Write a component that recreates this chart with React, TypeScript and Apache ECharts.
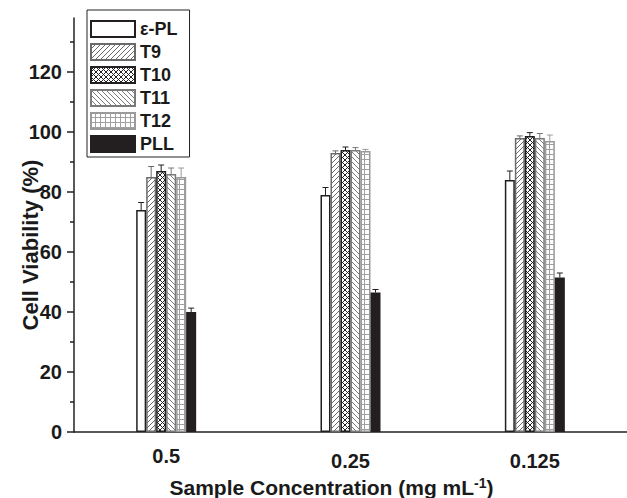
import React, { useEffect, useRef } from "react";
import * as echarts from "echarts";

const categories = ["0.5", "0.25", "0.125"];
const seriesNames = ["ε-PL", "T9", "T10", "T11", "T12", "PLL"];
const eplValues = [74, 79, 84];
const eplErr = [2.5, 2.5, 3];
const t9Values = [85, 93, 98];
const t9Err = [3.5, 0.7, 0.7];
const t10Values = [87, 94, 98.7];
const t10Err = [2, 1, 1.1];
const t11Values = [86, 94, 98];
const t11Err = [2, 0.8, 1.5];
const t12Values = [85, 93.7, 97];
const t12Err = [3, 0.5, 2];
const pllValues = [40, 46.5, 51.5];
const pllErr = [1.3, 1, 1.5];
const yMajorTicks = [0, 20, 40, 60, 80, 100, 120];
const yMinorTicks = [10, 30, 50, 70, 90, 110, 130];

const FONT = "'Liberation Sans', Arial, Helvetica, sans-serif";

function makePattern(kind: string, color: string) {
  const s = 5;
  const c = document.createElement("canvas");
  c.width = s;
  c.height = s;
  const ctx = c.getContext("2d")!;
  ctx.fillStyle = "#ffffff";
  ctx.fillRect(0, 0, s, s);
  ctx.strokeStyle = color;
  ctx.lineWidth = 1;
  const fwd = () => {
    ctx.beginPath();
    ctx.moveTo(-1, s + 1);
    ctx.lineTo(s + 1, -1);
    ctx.moveTo(-1, 1);
    ctx.lineTo(1, -1);
    ctx.moveTo(s - 1, s + 1);
    ctx.lineTo(s + 1, s - 1);
    ctx.stroke();
  };
  const back = () => {
    ctx.beginPath();
    ctx.moveTo(-1, -1);
    ctx.lineTo(s + 1, s + 1);
    ctx.moveTo(s - 1, -1);
    ctx.lineTo(s + 1, 1);
    ctx.moveTo(-1, s - 1);
    ctx.lineTo(1, s + 1);
    ctx.stroke();
  };
  if (kind === "fwd") fwd();
  if (kind === "back") back();
  if (kind === "cross") {
    fwd();
    back();
  }
  if (kind === "grid") {
    ctx.beginPath();
    ctx.moveTo(0, s - 0.5);
    ctx.lineTo(s, s - 0.5);
    ctx.moveTo(s - 0.5, 0);
    ctx.lineTo(s - 0.5, s);
    ctx.stroke();
  }
  return { image: c, repeat: "repeat" } as any;
}

export default function App() {
  const ref = useRef<HTMLDivElement>(null);
  useEffect(() => {
    if (!ref.current) return;
    const chart = echarts.init(ref.current, undefined, { renderer: "svg" });
    const values = [eplValues, t9Values, t10Values, t11Values, t12Values, pllValues];
    const errs = [eplErr, t9Err, t10Err, t11Err, t12Err, pllErr];
    const fills = [
      "#ffffff",
      makePattern("fwd", "#6a6a6a"),
      makePattern("cross", "#222222"),
      makePattern("back", "#7a7a7a"),
      makePattern("grid", "#a0a0a0"),
      "#231f20",
    ];
    const borders = ["#231f20", "#6a6a6a", "#231f20", "#7a7a7a", "#9a9a9a", "#231f20"];
    const barW = 10;

    const barSeries = seriesNames.map((name, i) => ({
      name,
      type: "bar",
      barWidth: barW,
      barGap: "0%",
      data: values[i],
      itemStyle: { color: fills[i], borderColor: borders[i], borderWidth: 1.5 },
    }));
    const errSeries = seriesNames.map((name, i) => ({
      name: "err-" + name,
      type: "custom",
      z: 5,
      data: values[i].map((v, k) => [k, v, errs[i][k]]),
      renderItem: (params: any, api: any) => {
        const x = api.value(0);
        const v = api.value(1);
        const e = api.value(2);
        const p0 = api.coord([x, v]);
        const p1 = api.coord([x, v + e]);
        const cx = p0[0] + (i - 2.5) * barW;
        const st = { stroke: borders[i], lineWidth: 1 };
        return {
          type: "group",
          children: [
            { type: "line", shape: { x1: cx, y1: p0[1], x2: cx, y2: p1[1] }, style: st },
            { type: "line", shape: { x1: cx - 3, y1: p1[1], x2: cx + 3, y2: p1[1] }, style: st },
          ],
        };
      },
    }));

    chart.setOption({
      animation: false,
      backgroundColor: "#ffffff",
      textStyle: { fontFamily: FONT },
      grid: { left: 74, right: 0, top: 18, bottom: 66, containLabel: false, outerBoundsMode: "none" },
      legend: {
        data: seriesNames,
        orient: "vertical",
        left: 87,
        top: 10,
        itemWidth: 44,
        itemHeight: 16,
        itemGap: 5,
        padding: [10, 12, 4, 3],
        borderColor: "#222",
        borderWidth: 1,
        backgroundColor: "#fff",
        icon: "rect",
        textStyle: { fontFamily: FONT, fontWeight: "bold", fontSize: 18, color: "#1a1a1a" },
      },
      xAxis: {
        type: "category",
        data: categories.map((c, k) => ({
          value: c,
          textStyle: { padding: [k === 0 ? 0 : 5, 0, 0, 0] },
        })),
        axisLine: { lineStyle: { color: "#222", width: 1.5 } },
        axisTick: { alignWithLabel: true, length: 6, lineStyle: { color: "#222", width: 1.5 } },
        axisLabel: { fontFamily: FONT, fontWeight: "bold", fontSize: 20, color: "#1a1a1a", margin: 14 },
        name: "{a|Sample Concentration (mg mL}{s|-1}{a|)}",
        nameLocation: "middle",
        nameGap: 44,
        nameMoveOverlap: false,
        nameTextStyle: {
          padding: [0, 38, 0, 0],
          rich: {
            a: { fontFamily: FONT, fontWeight: "bold", fontSize: 21, lineHeight: 22, color: "#1a1a1a" },
            s: { fontFamily: FONT, fontWeight: "bold", fontSize: 14, lineHeight: 22, color: "#1a1a1a", verticalAlign: "top" },
          },
        },
      },
      yAxis: [
        {
          type: "value",
          min: 0,
          max: 138,
          axisLine: { show: true, lineStyle: { color: "#222", width: 1.5 } },
          axisTick: { show: true, customValues: yMajorTicks, length: 7, lineStyle: { color: "#222", width: 1.5 } },
          axisLabel: { customValues: yMajorTicks, fontFamily: FONT, fontWeight: "bold", fontSize: 20, color: "#1a1a1a", margin: 12 },
          splitLine: { show: false },
          name: "Cell Viability (%)",
          nameLocation: "middle",
          nameGap: 33,
          nameMoveOverlap: false,
          nameTextStyle: { fontFamily: FONT, fontWeight: "bold", fontSize: 22, color: "#1a1a1a", padding: [0, 40, 0, 0] },
        },
        {
          type: "value",
          min: 0,
          max: 138,
          position: "left",
          axisLine: { show: false },
          axisTick: { show: true, customValues: yMinorTicks, length: 4, lineStyle: { color: "#222", width: 1.5 } },
          axisLabel: { show: false },
          splitLine: { show: false },
        },
      ],
      series: [...barSeries, ...errSeries],
    });
    return () => chart.dispose();
  }, []);
  return <div ref={ref} style={{ width: 627, height: 498, position: "absolute", left: 0, top: 0 }} />;
}
